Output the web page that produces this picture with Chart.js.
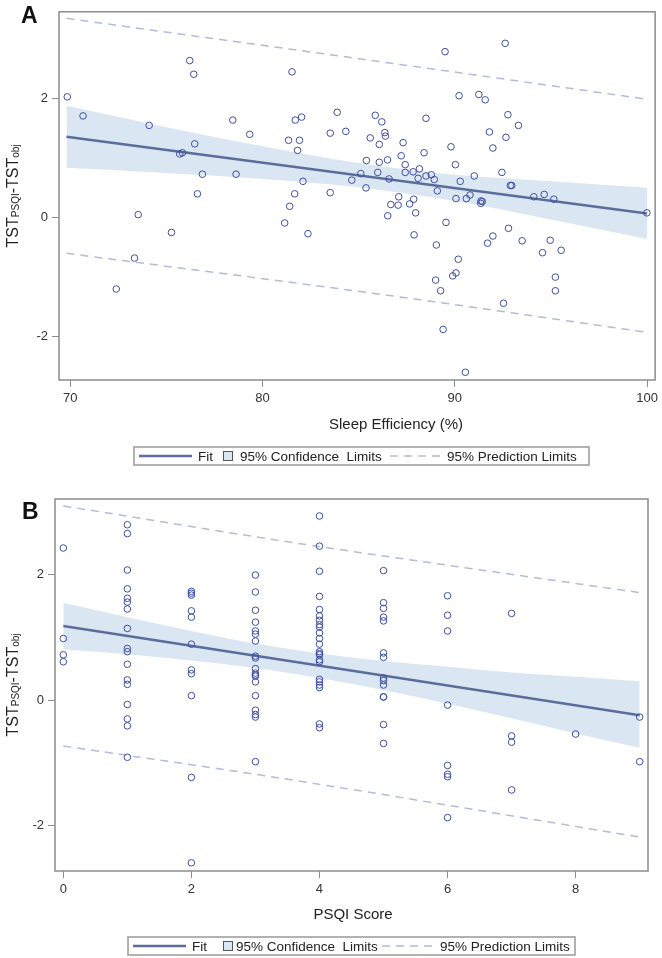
<!DOCTYPE html>
<html>
<head>
<meta charset="utf-8">
<script src="https://cdn.jsdelivr.net/npm/chart.js@4.4.1/dist/chart.umd.min.js"></script>
<style>
  body { margin: 0; background: #fff; }
  #wrap { position: relative; width: 662px; height: 958px; }
  canvas { position: absolute; left: 0; }
</style>
</head>
<body>
<div id="wrap">
  <canvas id="chartA" width="662" height="479" style="top:0"></canvas>
  <canvas id="chartB" width="662" height="479" style="top:479px"></canvas>
</div>
<script>
// ---- Panel A: sleep efficiency vs TST difference ----
const effA = [69.84, 70.66, 74.10, 76.21, 76.42, 76.47, 75.69, 75.83, 76.87, 78.62, 76.61, 73.53, 75.26,
  78.45, 79.33, 81.53, 81.70, 82.03, 81.35, 81.92, 81.82, 82.10, 81.67, 81.41, 81.15, 82.36, 83.52,
  83.52, 83.88, 73.34, 72.39, 89.49, 92.62, 90.22, 91.25, 91.58, 85.86, 86.20, 88.50, 92.76, 93.31,
  84.33, 86.36, 86.39, 85.60, 86.07, 87.31, 91.80, 92.66, 91.98, 89.80, 88.40, 87.21, 85.40, 86.07,
  86.50, 87.42, 90.03, 85.11, 84.64, 85.99, 86.58, 87.42, 87.83, 88.16, 88.09, 88.50, 88.78, 88.93,
  90.28, 91.01, 92.45, 92.89, 92.96, 85.38, 89.09, 90.06, 90.60, 90.79, 91.36, 91.43, 91.35, 94.11,
  94.65, 95.15, 99.99, 87.08, 86.67, 87.05, 87.65, 87.86, 87.96, 86.51, 89.54, 92.79, 87.88, 91.98,
  91.70, 89.04, 93.50, 94.96, 94.56, 95.53, 90.18, 90.06, 89.89, 89.00, 89.26, 95.23, 95.23, 92.53,
  89.39, 90.55];
const diffA = [2.03, 1.71, 1.55, 2.64, 2.41, 1.24, 1.07, 1.09, 0.73, 0.73, 0.40, 0.05, -0.25,
  1.64, 1.40, 2.45, 1.64, 1.69, 1.30, 1.30, 1.13, 0.61, 0.40, 0.19, -0.09, -0.27, 1.42,
  0.42, 1.77, -0.68, -1.20, 2.79, 2.93, 2.05, 2.07, 1.98, 1.72, 1.61, 1.67, 1.73, 1.55,
  1.45, 1.43, 1.37, 1.34, 1.23, 1.26, 1.44, 1.35, 1.17, 1.19, 1.09, 1.04, 0.96, 0.93,
  0.97, 0.89, 0.89, 0.74, 0.63, 0.76, 0.65, 0.76, 0.77, 0.82, 0.66, 0.70, 0.72, 0.64,
  0.61, 0.70, 0.76, 0.54, 0.54, 0.50, 0.45, 0.32, 0.32, 0.38, 0.28, 0.27, 0.24, 0.35,
  0.39, 0.31, 0.08, 0.35, 0.22, 0.21, 0.23, 0.31, 0.08, 0.03, -0.08, -0.18, -0.29, -0.31,
  -0.43, -0.46, -0.39, -0.38, -0.59, -0.55, -0.70, -0.93, -0.98, -1.05, -1.23, -1.00, -1.23, -1.44,
  -1.88, -2.60];
const fitAx = [69.8, 100];
const fitAy = [1.36, 0.07];
const bandAx = [69.8, 75, 80, 85, 90, 95, 100];
const bandAhi = [1.88, 1.52, 1.20, 0.92, 0.72, 0.61, 0.50];
const bandAlo = [0.84, 0.75, 0.65, 0.51, 0.28, -0.03, -0.36];
const predAx = [69.8, 86.6, 100];
const predAhi = [3.35, 2.60, 1.99];
const predAlo = [-0.60, -1.31, -1.93];
const ticksAx = [70, 80, 90, 100];
const ticksAy = [-2, 0, 2];

// ---- Panel B: PSQI score vs TST difference ----
const psqiB = [0, 0, 0, 0,
  1, 1, 1, 1, 1, 1, 1, 1, 1, 1, 1, 1, 1, 1, 1, 1, 1,
  2, 2, 2, 2, 2, 2, 2, 2, 2, 2, 2,
  3, 3, 3, 3, 3, 3, 3, 3, 3, 3, 3, 3, 3, 3, 3, 3, 3, 3, 3,
  4, 4, 4, 4, 4, 4, 4, 4, 4, 4, 4, 4, 4, 4, 4, 4, 4, 4, 4, 4, 4, 4, 4,
  5, 5, 5, 5, 5, 5, 5, 5, 5, 5, 5, 5, 5, 5,
  6, 6, 6, 6, 6, 6, 6, 6,
  7, 7, 7, 7,
  8,
  9, 9];
const diffB = [2.42, 0.98, 0.72, 0.61,
  2.79, 2.65, 2.07, 1.77, 1.62, 1.56, 1.45, 1.14, 0.82, 0.77, 0.57, 0.32, 0.25, -0.07, -0.30, -0.41, -0.91,
  1.73, 1.70, 1.67, 1.42, 1.32, 0.89, 0.48, 0.42, 0.07, -1.23, -2.59,
  1.99, 1.72, 1.43, 1.24, 1.10, 1.05, 0.94, 0.70, 0.67, 0.50, 0.43, 0.40, 0.38, 0.29, 0.07, -0.16, -0.23, -0.27, -0.98,
  2.93, 2.45, 2.05, 1.65, 1.44, 1.34, 1.27, 1.20, 1.16, 1.07, 0.98, 0.89, 0.77, 0.74, 0.72, 0.64, 0.61, 0.33, 0.29, 0.24, 0.20, -0.38, -0.44,
  2.06, 1.55, 1.46, 1.32, 1.26, 0.75, 0.68, 0.35, 0.31, 0.24, 0.05, 0.05, -0.39, -0.69,
  1.66, 1.35, 1.10, -0.08, -1.04, -1.18, -1.22, -1.87,
  1.38, -0.57, -0.67, -1.43,
  -0.54,
  -0.27, -0.98];
const fitBx = [0, 9];
const fitBy = [1.18, -0.24];
const bandBx = [0, 1, 2, 3, 4, 5, 6, 7, 8, 9];
const bandBhi = [1.55, 1.32, 1.10, 0.90, 0.74, 0.62, 0.53, 0.44, 0.37, 0.30];
const bandBlo = [0.81, 0.73, 0.63, 0.51, 0.35, 0.16, -0.06, -0.29, -0.53, -0.76];
const predBx = [0, 3.5, 9];
const predBhi = [3.09, 2.52, 1.71];
const predBlo = [-0.73, -1.26, -2.18];
const ticksBx = [0, 2, 4, 6, 8];
const ticksBy = [-2, 0, 2];

// colours
const MARKER = '#3f4ea3';
const FITCOL = '#5a6d9b';
const BANDCOL = '#dbe6f3';
const PREDCOL = '#b4badb';
const FRAME = '#8c8c8c';
const FONT = '"Liberation Sans", Arial, sans-serif';

const pts = (xs, ys) => xs.map((x, i) => ({ x: x, y: ys[i] }));

function drawYTitle(ctx, cx, cy) {
  const parts = [['TST', 16, 0], ['PSQI', 10, 1], ['-TST', 16, 0], ['obj', 10, 1]];
  ctx.save();
  ctx.translate(cx, cy);
  ctx.rotate(-Math.PI / 2);
  ctx.fillStyle = '#222';
  ctx.textBaseline = 'alphabetic';
  let total = 0;
  parts.forEach(p => { ctx.font = p[1] + 'px ' + FONT; total += ctx.measureText(p[0]).width; });
  let x = -total / 2;
  parts.forEach(p => {
    ctx.font = p[1] + 'px ' + FONT;
    ctx.fillText(p[0], x, 6 + p[2]);
    x += ctx.measureText(p[0]).width;
  });
  ctx.restore();
}

function drawLegend(ctx, L) {
  ctx.save();
  ctx.strokeStyle = '#999';
  ctx.lineWidth = 1.5;
  ctx.strokeRect(L.x0, L.top, L.x1 - L.x0, L.bottom - L.top);
  const cy = (L.top + L.bottom) / 2;
  // fit line sample
  ctx.strokeStyle = FITCOL;
  ctx.lineWidth = 2.5;
  ctx.beginPath(); ctx.moveTo(L.line0, cy); ctx.lineTo(L.line1, cy); ctx.stroke();
  ctx.fillStyle = '#222';
  ctx.font = '13.5px ' + FONT;
  ctx.textBaseline = 'middle';
  ctx.fillText('Fit', L.fitText, cy + 1);
  // confidence swatch
  ctx.fillStyle = BANDCOL;
  ctx.fillRect(L.box, cy - 5, 10, 10);
  ctx.strokeStyle = '#555';
  ctx.lineWidth = 1;
  ctx.strokeRect(L.box + 0.5, cy - 4.5, 9, 9);
  ctx.fillStyle = '#222';
  ctx.fillText('95% Confidence  Limits', L.confText, cy + 1);
  // prediction dashes
  ctx.strokeStyle = PREDCOL;
  ctx.lineWidth = 1.5;
  ctx.setLineDash([8, 6]);
  ctx.beginPath(); ctx.moveTo(L.dash0, cy); ctx.lineTo(L.dash1, cy); ctx.stroke();
  ctx.setLineDash([]);
  ctx.fillText('95% Prediction Limits', L.predText, cy + 1);
  ctx.restore();
}

function decor(opts) {
  return {
    id: 'decor',
    afterDatasetsDraw(chart) {
      const ctx = chart.ctx;
      const a = chart.chartArea;
      ctx.save();
      ctx.strokeStyle = FRAME;
      ctx.lineWidth = 1.5;
      ctx.strokeRect(a.left, a.top, a.right - a.left, a.bottom - a.top);
      ctx.fillStyle = '#111';
      ctx.font = 'bold 23px ' + FONT;
      ctx.textBaseline = 'alphabetic';
      ctx.fillText(opts.letter, opts.letterX, opts.letterY);
      ctx.fillStyle = '#222';
      ctx.font = '15px ' + FONT;
      ctx.textAlign = 'center';
      ctx.textBaseline = 'middle';
      ctx.fillText(opts.xTitle, opts.xTitleX, opts.xTitleY);
      ctx.textAlign = 'left';
      ctx.restore();
      drawYTitle(ctx, 12, (a.top + a.bottom) / 2);
      drawLegend(ctx, opts.legend);
    }
  };
}

function makeChart(id, c) {
  const datasets = [
    { data: pts(c.bandX, c.bandHi), borderWidth: 0, pointRadius: 0, fill: false, order: 3, cubicInterpolationMode: 'monotone' },
    { data: pts(c.bandX, c.bandLo), borderWidth: 0, pointRadius: 0, fill: '-1', backgroundColor: BANDCOL, order: 3, cubicInterpolationMode: 'monotone' },
    { data: pts(c.predX, c.predHi), borderColor: PREDCOL, borderWidth: 1.5, borderDash: [8, 6], pointRadius: 0, fill: false, order: 2, cubicInterpolationMode: 'monotone' },
    { data: pts(c.predX, c.predLo), borderColor: PREDCOL, borderWidth: 1.5, borderDash: [8, 6], pointRadius: 0, fill: false, order: 2, cubicInterpolationMode: 'monotone' },
    { data: pts(c.fitX, c.fitY), borderColor: FITCOL, borderWidth: 2.5, pointRadius: 0, fill: false, order: 1 },
    { data: pts(c.x, c.y), showLine: false, pointRadius: 3.3, pointBorderWidth: 1, pointBorderColor: MARKER,
      pointBackgroundColor: 'rgba(0,0,0,0)', borderColor: MARKER, backgroundColor: 'rgba(0,0,0,0)', order: 0 }
  ];
  const tickFont = { family: FONT, size: 13 };
  return new Chart(document.getElementById(id), {
    type: 'line',
    data: { datasets: datasets },
    options: {
      responsive: false,
      animation: false,
      events: [],
      layout: { autoPadding: false, padding: { left: 0, top: c.padTop, right: c.padRight, bottom: 0 } },
      plugins: { legend: { display: false }, tooltip: { enabled: false } },
      scales: {
        x: {
          type: 'linear', min: c.xMin, max: c.xMax,
          afterBuildTicks: s => { s.ticks = c.xTicks.map(v => ({ value: v })); },
          afterFit: s => { s.height = c.xAxisH; },
          grid: { drawOnChartArea: false, drawTicks: true, tickLength: 7, color: FRAME },
          border: { display: false },
          ticks: { font: tickFont, color: '#333', padding: 4, maxRotation: 0, callback: v => v }
        },
        y: {
          type: 'linear', min: c.yMin, max: c.yMax,
          afterBuildTicks: s => { s.ticks = c.yTicks.map(v => ({ value: v })); },
          afterFit: s => { s.width = c.yAxisW; },
          grid: { drawOnChartArea: false, drawTicks: true, tickLength: 7, color: FRAME },
          border: { display: false },
          ticks: { font: tickFont, color: '#333', padding: 4, callback: v => v }
        }
      }
    },
    plugins: [decor(c.decor)]
  });
}

makeChart('chartA', {
  x: effA, y: diffA, fitX: fitAx, fitY: fitAy,
  bandX: bandAx, bandHi: bandAhi, bandLo: bandAlo,
  predX: predAx, predHi: predAhi, predLo: predAlo,
  xTicks: ticksAx, yTicks: ticksAy,
  xMin: 69.41, xMax: 100.42, yMin: -2.73, yMax: 3.46,
  padTop: 4, padRight: 6, yAxisW: 59, xAxisH: 99,
  decor: {
    letter: 'A', letterX: 21, letterY: 23,
    xTitle: 'Sleep Efficiency (%)', xTitleX: 396, xTitleY: 425,
    legend: { x0: 134, x1: 589, top: 447, bottom: 465, line0: 139, line1: 192, fitText: 198,
      box: 223, confText: 240, dash0: 390, dash1: 440, predText: 447 }
  }
});

makeChart('chartB', {
  x: psqiB, y: diffB, fitX: fitBx, fitY: fitBy,
  bandX: bandBx, bandHi: bandBhi, bandLo: bandBlo,
  predX: predBx, predHi: predBhi, predLo: predBlo,
  xTicks: ticksBx, yTicks: ticksBy,
  xMin: -0.13, xMax: 9.13, yMin: -2.72, yMax: 3.20,
  padTop: 20, padRight: 14, yAxisW: 55, xAxisH: 87,
  decor: {
    letter: 'B', letterX: 22, letterY: 40,
    xTitle: 'PSQI Score', xTitleX: 353, xTitleY: 436,
    legend: { x0: 128, x1: 575, top: 458, bottom: 476, line0: 133, line1: 186, fitText: 192,
      box: 223, confText: 236, dash0: 382, dash1: 432, predText: 440 }
  }
});
</script>
</body>
</html>
